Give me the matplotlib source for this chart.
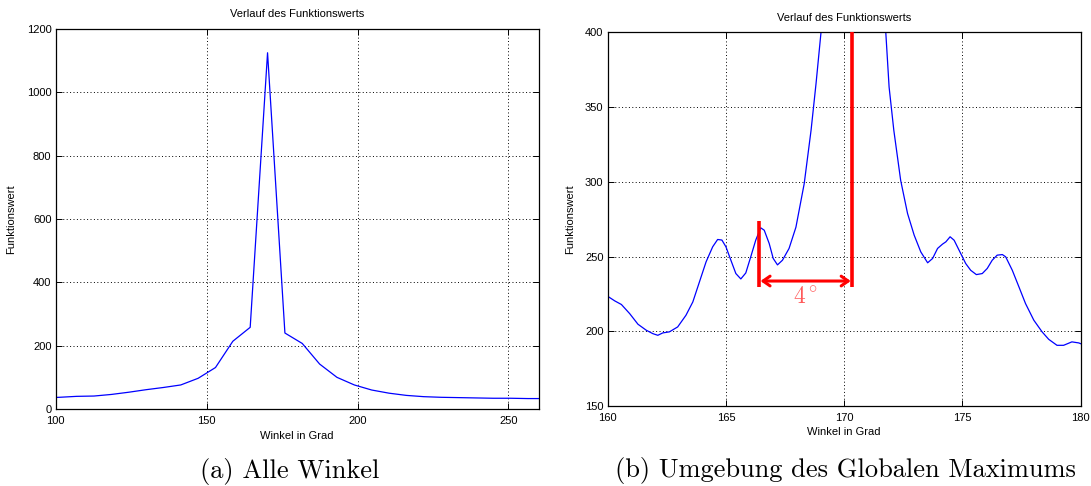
import matplotlib
matplotlib.use('Agg')
import matplotlib.pyplot as plt

plt.rcParams['font.family'] = ['Liberation Sans', 'DejaVu Sans']
plt.rcParams['mathtext.fontset'] = 'cm'

# --- Data ---
# coarse scan over all angles
winkel_alle = [95.45, 101.2, 106.95, 112.7, 118.45, 124.2, 129.95, 135.7, 141.45,
               147.2, 152.95, 158.7, 164.45, 170.2, 175.95, 181.7, 187.45, 193.2,
               198.95, 204.7, 210.45, 216.2, 221.95, 227.7, 233.45, 239.2, 244.95,
               250.7, 256.45, 262.2]
wert_alle = [35, 37, 40, 41, 46, 53, 61, 68, 76,
             97, 131, 214, 258, 1125, 240, 207, 142, 100,
             76, 60, 50, 43, 39, 37, 36, 35, 34,
             34, 33, 33]

# fine scan around the global maximum
winkel_fein = [160.0, 160.3, 160.58, 160.93, 161.28, 161.63, 161.91, 162.12, 162.33,
               162.61, 162.96, 163.31, 163.6, 163.88, 164.16, 164.44, 164.65, 164.83,
               165.0, 165.21, 165.42, 165.63, 165.84, 166.05, 166.26, 166.47, 166.62,
               166.83, 167.0, 167.18, 167.39, 167.67, 167.96, 168.31, 168.6, 168.81,
               169.02, 170.35, 171.76, 171.9, 172.1, 172.39, 172.68, 172.96, 173.24,
               173.53, 173.74, 173.95, 174.16, 174.3, 174.48, 174.65, 174.86, 175.14,
               175.35, 175.59, 175.84, 176.05, 176.26, 176.47, 176.69, 176.83, 177.11,
               177.39, 177.67, 178.02, 178.37, 178.65, 179.0, 179.28, 179.63, 179.92,
               180.0]
wert_fein = [223.4, 220.3, 217.9, 211.8, 204.7, 200.7, 198.4, 197.3, 198.9,
             199.6, 202.9, 210.7, 219.6, 233.0, 246.4, 256.5, 261.4, 261.0,
             256.5, 247.5, 238.6, 235.0, 239.0, 249.8, 260.9, 269.2, 267.6,
             258.7, 248.7, 244.4, 247.5, 255.4, 269.6, 298.7, 334.4, 365.6,
             399.8, 1125.0, 400.0, 363.4, 334.4, 300.9, 278.8, 264.3, 253.1,
             245.8, 248.7, 255.4, 258.3, 259.8, 263.2, 260.9, 254.2, 245.3,
             240.8, 237.9, 238.6, 242.0, 247.5, 250.9, 251.3, 249.8, 240.8,
             229.7, 218.5, 207.4, 199.6, 194.6, 190.6, 190.6, 192.9, 192.2,
             191.7]

# side maximum, global maximum and height of the distance marker
nebenmax = 166.41
hauptmax = 170.33
marker_unten = 229.6
nebenmax_oben = 273.6
pfeil_hoehe = 233.6
abstand_text = '$4^\\circ$'

TITEL = 'Verlauf des Funktionswerts'
XLABEL = 'Winkel in Grad'
YLABEL = 'Funktionswert'
FS = 8


def style_axes(ax, xticks, yticks, xlab_y, ylab_x, title_y):
    ax.set_xticks(xticks)
    ax.set_yticks(yticks)
    ax.grid(True, color='black', linestyle=(0, (1, 2.5)), linewidth=0.7)
    ax.tick_params(direction='in', top=True, right=True, length=4, width=0.7,
                   labelsize=FS)
    ax.tick_params(axis='x', pad=5)
    ax.tick_params(axis='y', pad=3)
    for sp in ax.spines.values():
        sp.set_linewidth(0.9)
    ax.set_xlabel(XLABEL, fontsize=FS)
    ax.set_ylabel(YLABEL, fontsize=FS)
    ax.xaxis.set_label_coords(0.5, xlab_y)
    ax.yaxis.set_label_coords(ylab_x, 0.5)
    ax.text(0.5, title_y, TITEL, transform=ax.transAxes, ha='center', va='center',
            fontsize=FS)


fig = plt.figure(figsize=(10.91, 4.86), dpi=100)

# left: all angles
ax1 = fig.add_axes([0.051, 0.1584, 0.4427, 0.7819])
ax1.plot(winkel_alle, wert_alle, color='#0000ff', linewidth=0.9)
ax1.set_xlim(100, 260)
ax1.set_ylim(0, 1200)
style_axes(ax1, [100, 150, 200, 250], range(0, 1201, 200), -0.058, -0.082, 1.039)

# right: zoom around the global maximum
ax2 = fig.add_axes([0.557, 0.1646, 0.4335, 0.769])
ax2.plot(winkel_fein, wert_fein, color='#0000ff', linewidth=0.9)
ax2.set_xlim(160, 180)
ax2.set_ylim(150, 400)
style_axes(ax2, [160, 165, 170, 175, 180], range(150, 401, 50), -0.055, -0.068, 1.0375)

ax2.plot([nebenmax, nebenmax], [marker_unten, nebenmax_oben], color='red',
         linewidth=2.6, solid_capstyle='butt', zorder=4)
ax2.plot([hauptmax, hauptmax], [marker_unten, 400], color='red',
         linewidth=2.6, solid_capstyle='butt', zorder=4, clip_on=False)
ax2.annotate('', xy=(hauptmax - 0.05, pfeil_hoehe), xytext=(nebenmax + 0.05, pfeil_hoehe),
             arrowprops=dict(arrowstyle='<->,head_length=0.5,head_width=0.35',
                             color='red', lw=2.2, shrinkA=0, shrinkB=0), zorder=4)
ax2.text((nebenmax + hauptmax) / 2, pfeil_hoehe - 3, abstand_text, color='#ff5a5a',
         fontsize=17, ha='center', va='top')

# subfigure captions
fig.text(0.2655, 1 - 478 / 486, '(a) Alle Winkel', family='cmr10', fontsize=19,
         ha='center', va='baseline')
fig.text(0.7747, 1 - 477 / 486, '(b) Umgebung des Globalen Maximums', family='cmr10',
         fontsize=19, ha='center', va='baseline')

fig.savefig('out.png', dpi=100)
